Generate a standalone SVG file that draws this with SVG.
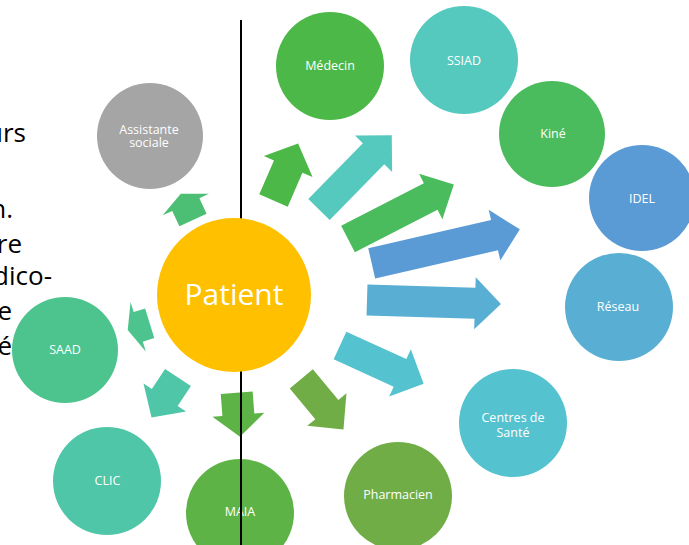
<svg xmlns="http://www.w3.org/2000/svg" width="689" height="545" viewBox="0 0 689 545">
<style>
.bg{fill:#fff}
.side{font-family:"Open Sans","Liberation Sans",sans-serif;font-size:26px;fill:#000;text-anchor:end}
.lbl{font-family:"Open Sans","Liberation Sans",sans-serif;font-size:12.5px;fill:#fff;text-anchor:middle}
.big{font-family:"Open Sans","Liberation Sans",sans-serif;font-size:30px;fill:#fff;text-anchor:middle}
.divider{stroke:#000;stroke-width:2}
</style>
<rect class="bg" x="0" y="0" width="689" height="545"/>
<g id="side-text">
<text class="side" x="26" y="142">urs</text>
<text class="side" x="13" y="218">n.</text>
<text class="side" x="22" y="253">re</text>
<text class="side" x="52" y="285">dico-</text>
<text class="side" x="12" y="320">e</text>
<text class="side" x="12" y="355">é</text>
</g>
<g id="node-assistante">
<circle cx="150" cy="136" r="53" fill="#A5A5A5"/>
<text class="lbl" x="149" y="133.5">Assistante</text>
<text class="lbl" x="149" y="146.5">sociale</text>
</g>
<g id="node-medecin">
<circle cx="330" cy="66" r="54" fill="#4CB848"/>
<text class="lbl" x="330" y="70">Médecin</text>
</g>
<g id="node-ssiad">
<circle cx="464" cy="60" r="54" fill="#55C9BE"/>
<text class="lbl" x="464" y="65">SSIAD</text>
</g>
<g id="node-kine">
<circle cx="552" cy="134" r="53" fill="#4BBC5D"/>
<text class="lbl" x="553" y="138">Kiné</text>
</g>
<g id="node-idel">
<circle cx="642" cy="198" r="53" fill="#5B9BD5"/>
<text class="lbl" x="642" y="203">IDEL</text>
</g>
<g id="node-reseau">
<circle cx="619" cy="307" r="54" fill="#59AFD3"/>
<text class="lbl" x="618" y="311">Réseau</text>
</g>
<g id="node-centres">
<circle cx="513" cy="423" r="54" fill="#55C2D0"/>
<text class="lbl" x="513" y="421.5">Centres de</text>
<text class="lbl" x="513" y="436.5">Santé</text>
</g>
<g id="node-pharmacien">
<circle cx="398" cy="496" r="54" fill="#70AD47"/>
<text class="lbl" x="398" y="499">Pharmacien</text>
</g>
<g id="node-maia">
<circle cx="240" cy="513" r="54" fill="#5EB347"/>
<text class="lbl" x="240" y="516">MAIA</text>
</g>
<g id="node-clic">
<circle cx="107" cy="481" r="54" fill="#4FC6A8"/>
<text class="lbl" x="107.5" y="485">CLIC</text>
</g>
<g id="node-saad">
<circle cx="65" cy="350" r="53" fill="#4DC48D"/>
<text class="lbl" x="65" y="354">SAAD</text>
</g>
<g id="connectors">
<polygon fill="#4DBF74" transform="translate(193,220) rotate(-115)" points="0,-15 17,-15 17,-25.5 29,0 17,25.5 17,15 0,15"/>
<polygon fill="#4CB848" transform="translate(273.5,200.5) rotate(-66.6)" points="0,-15.5 37,-15.5 37,-26.5 62,0 37,26.5 37,15.5 0,15.5"/>
<polygon fill="#55C9BE" transform="translate(319,209.5) rotate(-45.6)" points="0,-15 78,-15 78,-26 104,0 78,26 78,15 0,15"/>
<polygon fill="#4BBC5D" transform="translate(348,239) rotate(-27.2)" points="0,-15 93,-15 93,-25.5 119,0 93,25.5 93,15 0,15"/>
<polygon fill="#5B9BD5" transform="translate(371.7,263.3) rotate(-12.9)" points="0,-15.5 126,-15.5 126,-26 152,0 126,26 126,15.5 0,15.5"/>
<polygon fill="#59AFD3" transform="translate(367,300) rotate(1.7)" points="0,-15.5 108,-15.5 108,-26 134,0 108,26 108,15.5 0,15.5"/>
<polygon fill="#55C2D0" transform="translate(340,345.5) rotate(24.6)" points="0,-15.25 66,-15.25 66,-26 92,0 66,26 66,15.25 0,15.25"/>
<polygon fill="#70AD47" transform="translate(301.3,378.8) rotate(50.3)" points="0,-15 40,-15 40,-25.5 66,0 40,25.5 40,15 0,15"/>
<polygon fill="#5EB347" transform="translate(236.7,392.8) rotate(85.7)" points="0,-16 22,-16 22,-26 44,0 22,26 22,16 0,16"/>
<polygon fill="#4FC6A8" transform="translate(178,377.5) rotate(123.5)" points="0,-15.5 24,-15.5 24,-25.5 48,0 24,25.5 24,15.5 0,15.5"/>
<polygon fill="#4DC48D" transform="translate(149.7,323.3) rotate(162.8)" points="0,-15.5 12,-15.5 12,-26 23,0 12,26 12,15.5 0,15.5"/>
</g>
<line id="divider" class="divider" x1="241" y1="20" x2="241" y2="545"/>
<g id="node-patient">
<circle cx="234" cy="295" r="77" fill="#FFC000"/>
<text class="big" x="234" y="305">Patient</text>
</g>
</svg>
